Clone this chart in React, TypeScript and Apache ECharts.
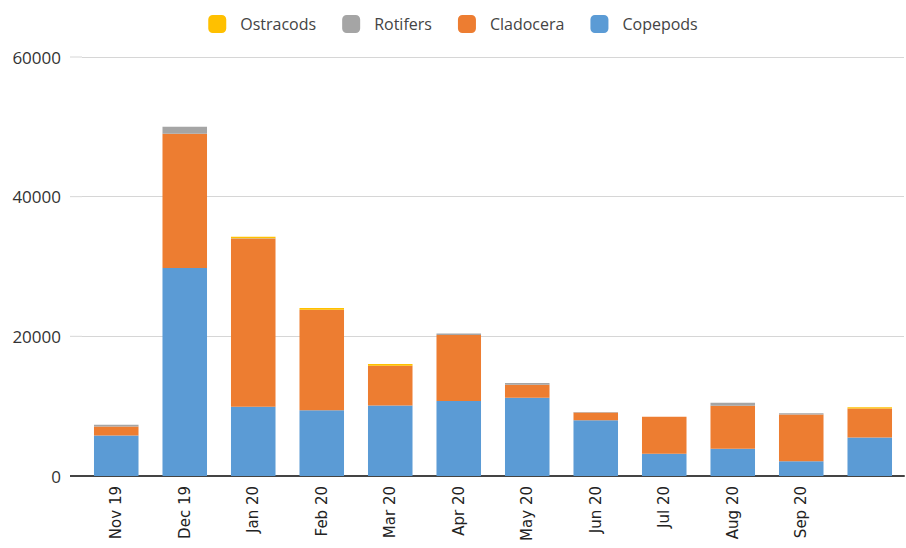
import React, { useEffect, useRef } from "react";
import * as echarts from "echarts";

const categories = ["Nov 19", "Dec 19", "Jan 20", "Feb 20", "Mar 20", "Apr 20", "May 20", "Jun 20", "Jul 20", "Aug 20", "Sep 20", ""];
const copepods = [5800, 29800, 9900, 9400, 10100, 10750, 11200, 8000, 3200, 3900, 2100, 5500];
const cladocera = [1300, 19200, 24100, 14400, 5700, 9450, 1850, 1100, 5300, 6150, 6700, 4150];
const rotifers = [250, 1000, 50, 0, 0, 200, 250, 80, 0, 450, 200, 0];
const ostracods = [0, 0, 200, 250, 250, 0, 0, 0, 0, 0, 0, 200];
const yTicks = { min: 0, max: 60000, interval: 20000 };

const FONT = "'Open Sans', 'Noto Sans', sans-serif";

export default function App() {
  const ref = useRef<HTMLDivElement>(null);
  useEffect(() => {
    if (!ref.current) return;
    const chart = echarts.init(ref.current, null, { renderer: "svg" });
    const mk = (name: string, data: number[], color: string) => ({
      name,
      type: "bar" as const,
      stack: "total",
      data,
      barWidth: "65%",
      itemStyle: { color },
      emphasis: { disabled: true },
    });
    chart.setOption({
      animation: false,
      textStyle: { fontFamily: FONT },
      legend: {
        top: 10,
        left: "center",
        data: ["Ostracods", "Rotifers", "Cladocera", "Copepods"],
        icon: "roundRect",
        itemWidth: 18,
        itemHeight: 18,
        itemGap: 26,
        textStyle: { fontFamily: FONT, fontSize: 16, color: "#444", padding: [0, 0, 0, 9] },
      },
      grid: { left: 82, right: 2, top: 57, bottom: 72, containLabel: false },
      xAxis: {
        type: "category",
        data: categories,
        axisTick: { show: false },
        axisLine: { lineStyle: { color: "#444", width: 2 } },
        axisLabel: {
          rotate: 90,
          fontSize: 15,
          color: "#222",
          margin: 10,
          fontFamily: "'DejaVu Sans', sans-serif",
          interval: 0,
        },
      },
      yAxis: {
        type: "value",
        min: yTicks.min,
        max: yTicks.max,
        interval: yTicks.interval,
        axisLine: { show: false },
        axisTick: { show: false },
        axisLabel: {
          fontSize: 17,
          color: "#333",
          margin: 21,
          fontFamily: FONT,
          formatter: (v: number) => String(v),
        },
        splitLine: { lineStyle: { color: "#d6d6d6", width: 1 } },
      },
      series: [
        mk("Copepods", copepods, "#5B9BD5"),
        mk("Cladocera", cladocera, "#ED7D31"),
        mk("Rotifers", rotifers, "#A5A5A5"),
        mk("Ostracods", ostracods, "#FFC000"),
      ],
    });
    // extend gridlines to the left like the reference
    const left = 82;
    const ext: any[] = [];
    for (let v = yTicks.min; v <= yTicks.max; v += yTicks.interval) {
      const y = chart.convertToPixel({ yAxisIndex: 0 }, v) as number;
      ext.push({
        type: "line",
        shape: { x1: 70, y1: y, x2: left, y2: y },
        style: v === 0 ? { stroke: "#444", lineWidth: 2 } : { stroke: "#d6d6d6", lineWidth: 1 },
        silent: true,
      });
    }
    chart.setOption({ graphic: ext });
    return () => chart.dispose();
  }, []);
  return (
    <div
      ref={ref}
      style={{ position: "absolute", left: 0, top: 0, width: 906, height: 548, background: "#fff" }}
    />
  );
}
